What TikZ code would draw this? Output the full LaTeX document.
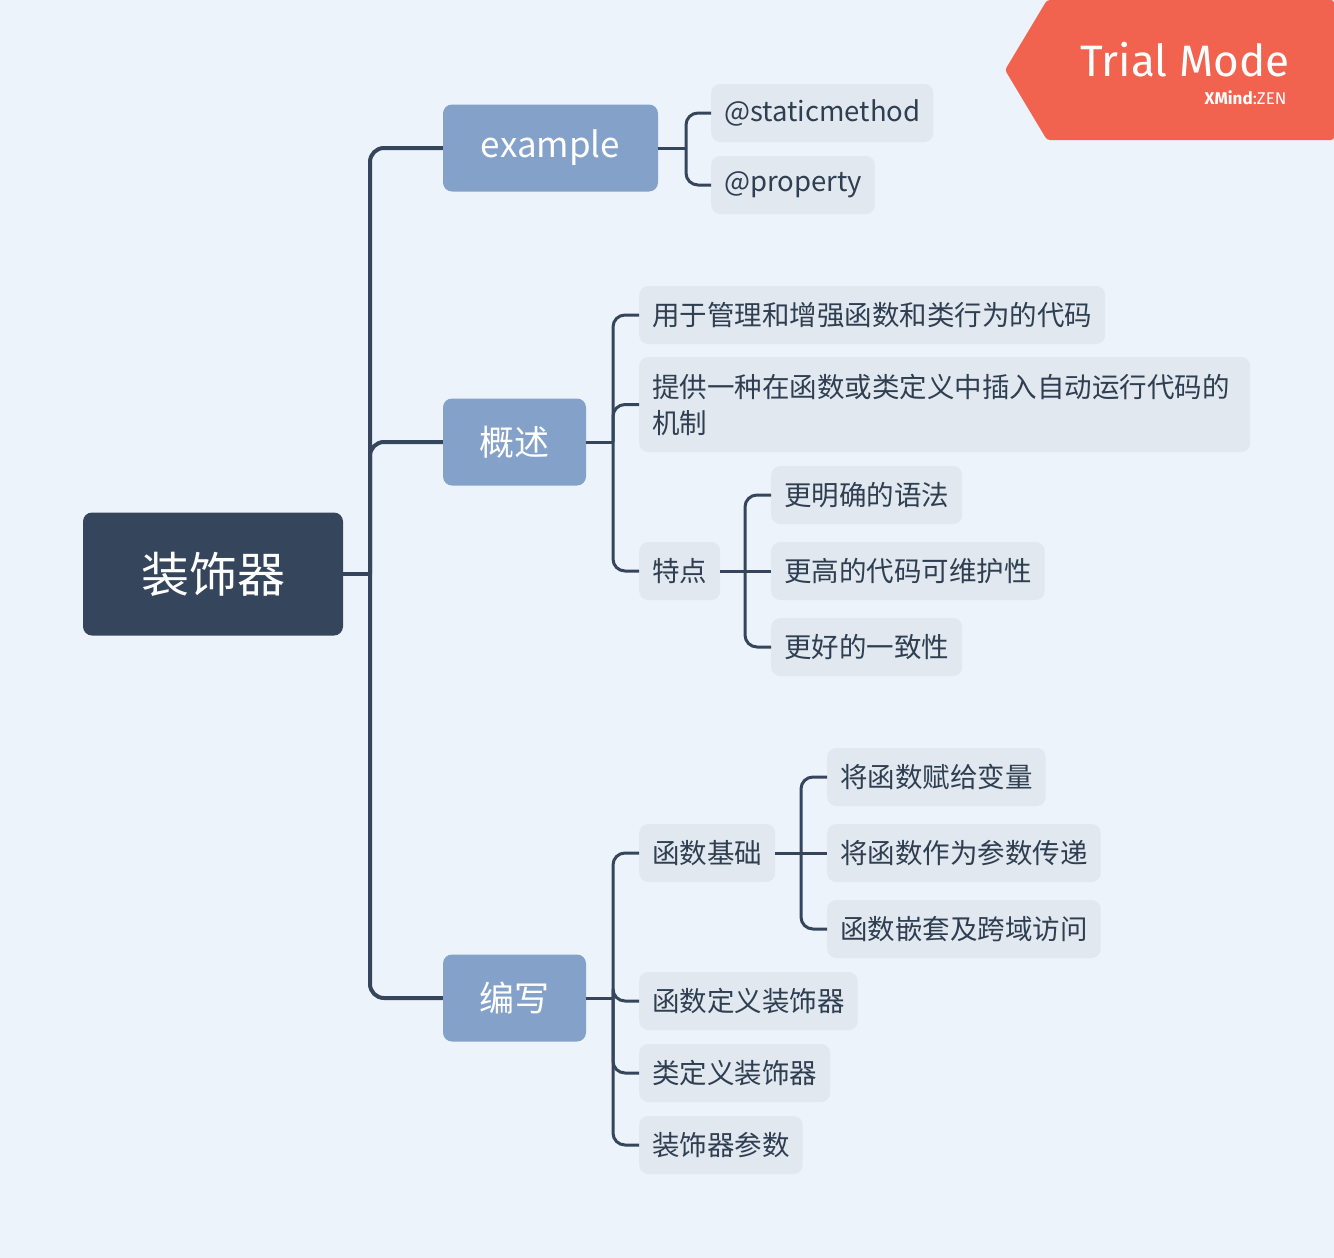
\documentclass[tikz,border=0pt]{standalone}
\usepackage{fontspec}
\setmainfont{Noto Sans CJK SC}
\newfontfamily\badgefont{Fira Sans}
\definecolor{bg}{HTML}{EDF3FA}
\definecolor{dark}{HTML}{35465C}
\definecolor{mainc}{HTML}{84A2C9}
\definecolor{leafc}{HTML}{E1E8F0}
\definecolor{txt}{HTML}{2F3E50}
\definecolor{badge}{HTML}{F1634F}
\tikzset{
 rootbox/.style={fill=dark,text=white,rounded corners=9,minimum width=260,minimum height=123,font=\fontsize{48}{56}\selectfont},
 mainbox/.style={fill=mainc,text=white,rounded corners=9,minimum height=87,inner xsep=36,font=\fontsize{35}{42}\selectfont},
 leafbox/.style={fill=leafc,text=txt,rounded corners=9,minimum height=58,inner xsep=13,anchor=west,font=\fontsize{27.5}{36}\selectfont},
 conn/.style={draw=dark,line width=4,rounded corners=14},
 sconn/.style={draw=dark,line width=3,rounded corners=12},
}
\begin{document}
\begin{tikzpicture}[x=1pt,y=-1pt]
\fill[bg] (0,0) rectangle (1334,1258);
\useasboundingbox (0,0) rectangle (1334,1258);
% badge
\fill[badge,rounded corners=3] (1005,70) -- (1047,0) -- (1334,0) -- (1334,140) -- (1047,140) -- cycle;
\node[text=white,font=\badgefont\fontsize{44}{50}\selectfont] (tm) at (1185,60) {Trial Mode};
\node[text=white,font=\badgefont\fontsize{17}{20}\selectfont,anchor=east] (xz) at (1290,98) {\textbf{XMind}:ZEN};
% nodes
\node[rootbox] (root) at (213,574) {装饰器};
\node[mainbox,minimum width=215] (ex) at (550.5,148) {example};
\node[mainbox,minimum width=143] (gs) at (514.5,442) {概述};
\node[mainbox,minimum width=143] (bx) at (514.5,998) {编写};
\node[leafbox] (a1) at (711,113) {@staticmethod};
\node[leafbox] (a2) at (711,185) {@property};
\node[leafbox] (b1) at (639,315) {用于管理和增强函数和类行为的代码};
\node[leafbox,text width=585,align=left,minimum height=95] (b2) at (639,404.5) {提供一种在函数或类定义中插入自动运行代码的\\机制};
\node[leafbox] (b3) at (639,571) {特点};
\node[leafbox] (c1) at (771,495) {更明确的语法};
\node[leafbox] (c2) at (771,571) {更高的代码可维护性};
\node[leafbox] (c3) at (771,647) {更好的一致性};
\node[leafbox] (d1) at (639,853) {函数基础};
\node[leafbox] (d2) at (639,1001) {函数定义装饰器};
\node[leafbox] (d3) at (639,1073) {类定义装饰器};
\node[leafbox] (d4) at (639,1145) {装饰器参数};
\node[leafbox] (e1) at (827,777) {将函数赋给变量};
\node[leafbox] (e2) at (827,853) {将函数作为参数传递};
\node[leafbox] (e3) at (827,929) {函数嵌套及跨域访问};
\coordinate (tr) at (370,574);
% connectors
\draw[conn] (root.east) -- (tr);
\draw[conn] (ex.west) -| (tr);
\draw[conn] (gs.west) -| (tr);
\draw[conn] (bx.west) -| (tr);
\coordinate (ja) at (686,148);
\draw[sconn] (ex.east) -- (ja);
\draw[sconn] (a1.west) -| (ja);
\draw[sconn] (a2.west) -| (ja);
\coordinate (jb) at (613,442);
\draw[sconn] (gs.east) -- (jb);
\draw[sconn] (b1.west) -| (jb);
\draw[sconn] (b2.west) -| (jb);
\draw[sconn] (b3.west) -| (jb);
\coordinate (jc) at (745,571);
\draw[sconn] (b3.east) -- (jc);
\draw[sconn] (c1.west) -| (jc);
\draw[sconn] (c2.west) -- (jc);
\draw[sconn] (c3.west) -| (jc);
\coordinate (jd) at (613,998);
\draw[sconn] (bx.east) -- (jd);
\draw[sconn] (d1.west) -| (jd);
\draw[sconn] (d2.west) -| (jd);
\draw[sconn] (d3.west) -| (jd);
\draw[sconn] (d4.west) -| (jd);
\coordinate (je) at (801,853);
\draw[sconn] (d1.east) -- (je);
\draw[sconn] (e1.west) -| (je);
\draw[sconn] (e2.west) -- (je);
\draw[sconn] (e3.west) -| (je);
\end{tikzpicture}
\end{document}
